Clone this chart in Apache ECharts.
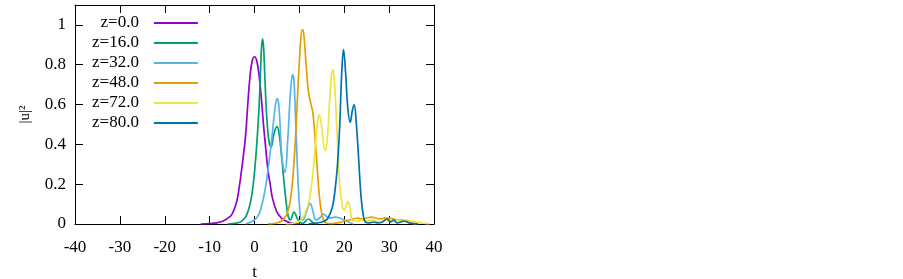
<!DOCTYPE html>
<html>
<head>
<meta charset="utf-8">
<script src="https://cdn.jsdelivr.net/npm/echarts@6/dist/echarts.min.js"></script>
<style>
html,body{margin:0;padding:0;background:#fff;}
#chart{width:903px;height:279px;}
</style>
</head>
<body>
<div id="chart"></div>
<script>
// ---- data ----
const seriesNames = ['z=0.0', 'z=16.0', 'z=32.0', 'z=48.0', 'z=72.0', 'z=80.0'];
const xTicks = [-40, -30, -20, -10, 0, 10, 20, 30, 40];
const yTicks = [0, 0.2, 0.4, 0.6, 0.8, 1];

const tZ0 = [-12,-10,-9,-8,-7,-6,-5,-4,-3.5,-3,-2.5,-2,-1.5,-1,-0.5,0,0.5,1,1.5,2,2.5,3,3.5,4,5,6,7,8,10];
const uZ0 = [0,0.002,0.004,0.008,0.015,0.028,0.05,0.11,0.17,0.25,0.34,0.44,0.6,0.74,0.82,0.84,0.82,0.75,0.64,0.5,0.38,0.27,0.2,0.13,0.06,0.03,0.015,0.006,0];

const tZ16 = [-6,-4,-3,-2,-1.5,-1,-0.5,0,0.5,1,1.3,1.55,1.8,2.05,2.3,2.7,3.2,3.7,4.3,5,5.5,6,6.5,7,7.5,8,8.8,9.7,10.7,12,13,14];
const uZ16 = [0,0.004,0.012,0.035,0.06,0.1,0.16,0.26,0.4,0.58,0.74,0.88,0.93,0.88,0.74,0.55,0.42,0.386,0.45,0.49,0.45,0.35,0.23,0.12,0.04,0.02,0.06,0.02,0.003,0.025,0.008,0];

const tZ32 = [-2,0,1,1.5,2,2.5,3,3.5,4,4.5,4.85,5.1,5.4,5.7,6.1,6.8,7.4,8,8.3,8.55,8.8,9.1,9.5,10,10.5,11,11.7,12.4,13,13.7,14.5,15.4,16.2,17,18,19,20,21,22];
const uZ32 = [0,0.02,0.05,0.085,0.13,0.19,0.27,0.36,0.46,0.57,0.62,0.63,0.6,0.5,0.33,0.26,0.42,0.66,0.73,0.75,0.72,0.56,0.32,0.1,0.02,0.025,0.07,0.104,0.065,0.02,0.03,0.05,0.035,0.03,0.035,0.03,0.02,0.01,0];

const tZ48 = [3,5,6,7,7.5,8,8.5,9,9.5,10,10.4,10.7,11,11.5,12,12.5,13,13.5,14,14.5,15,15.5,16,17,18,19,20,21,22,23,24,25,26,27,28,29,30,31,32,33,34,35,36];
const uZ48 = [0,0.005,0.015,0.04,0.07,0.12,0.22,0.38,0.6,0.82,0.95,0.977,0.95,0.8,0.67,0.61,0.56,0.43,0.27,0.13,0.05,0.015,0.005,0.002,0.004,0.008,0.015,0.02,0.025,0.03,0.025,0.03,0.035,0.03,0.025,0.03,0.03,0.025,0.02,0.02,0.01,0.005,0];

const tZ72 = [7,9,10,11,11.5,12,12.5,13,13.5,14,14.4,14.9,15.4,15.83,16.3,16.7,17.1,17.47,17.85,18.3,18.6,19,19.5,20,20.4,20.8,21.3,21.9,23,24,25,26,27,28,29,30,31,32,33,34,35,36,37,38,39];
const uZ72 = [0,0.005,0.015,0.04,0.07,0.1,0.16,0.25,0.38,0.5,0.55,0.5,0.4,0.37,0.45,0.6,0.74,0.775,0.7,0.5,0.35,0.2,0.1,0.067,0.09,0.114,0.08,0.015,0.015,0.02,0.015,0.02,0.015,0.01,0.015,0.02,0.015,0.02,0.015,0.02,0.015,0.01,0.005,0.003,0];

const tZ80 = [12,14,15,16,16.5,17,17.5,18,18.5,19,19.4,19.84,20.3,20.8,21.33,21.8,22.2,22.7,23.2,23.7,24.2,24.7,25.5,26.5,27.5,28.5,29.5,30.3,31,31.8,32.5,33.5,34.5,35.5,36.5];
const uZ80 = [0,0.005,0.01,0.02,0.035,0.06,0.1,0.18,0.3,0.5,0.74,0.876,0.76,0.58,0.51,0.57,0.6,0.5,0.33,0.15,0.05,0.01,0.005,0.01,0.005,0.01,0.025,0.01,0.02,0.005,0.01,0.015,0.005,0.002,0];

const colors = ['#9400d3', '#009e73', '#56b4e9', '#e69f00', '#f0e442', '#0072b2'];
const tLists = [tZ0, tZ16, tZ32, tZ48, tZ72, tZ80];
const uLists = [uZ0, uZ16, uZ32, uZ48, uZ72, uZ80];

// ---- chart ----
const FONT = '"Liberation Serif", "DejaVu Serif", serif';
const chart = echarts.init(document.getElementById('chart'), null, {renderer: 'canvas'});

const series = seriesNames.map((name, i) => ({
  name: name,
  type: 'line',
  data: tLists[i].map((t, k) => [t, uLists[i][k]]),
  smooth: 0.4,
  showSymbol: false,
  symbol: 'none',
  lineStyle: {color: colors[i], width: 1.7},
  itemStyle: {color: colors[i]},
  xAxisIndex: 0,
  yAxisIndex: 0,
  z: 2 + i
}));

const yFmt = v => (yTicks.some(t => Math.abs(t - v) < 1e-9) ? String(+v.toFixed(1)) : '');
const xFmt = v => (xTicks.indexOf(Math.round(v)) >= 0 ? String(Math.round(v)) : '');

const tickStyle = {show: true, inside: true, length: 8, lineStyle: {color: '#000', width: 1}};
const lineStyle = {show: true, onZero: false, lineStyle: {color: '#000', width: 1}};
const txt = {fontFamily: FONT, fontSize: 17, color: '#000'};

chart.setOption({
  animation: false,
  backgroundColor: '#fff',
  color: colors,
  textStyle: {fontFamily: FONT},
  grid: {left: 75, right: 469, top: 5, bottom: 55, containLabel: false, outerBoundsMode: 'none'},
  legend: {
    data: seriesNames,
    orient: 'vertical',
    left: 92,
    top: 13,
    padding: 0,
    align: 'right',
    itemGap: 0,
    itemWidth: 44,
    itemHeight: 2,
    icon: 'rect',
    textStyle: Object.assign({}, txt, {lineHeight: 20, padding: [0, 10, 0, 0]})
  },
  xAxis: [
    {
      type: 'value', position: 'bottom', min: -40, max: 40, interval: 10,
      axisLine: lineStyle, axisTick: tickStyle, splitLine: {show: false},
      axisLabel: Object.assign({}, txt, {margin: 15, formatter: xFmt}),
      name: 't', nameLocation: 'middle', nameGap: 40,
      nameTextStyle: txt
    },
    {
      type: 'value', position: 'top', min: -40, max: 40, interval: 10,
      axisLine: lineStyle, axisTick: tickStyle, splitLine: {show: false},
      axisLabel: {show: false}
    }
  ],
  yAxis: [
    {
      type: 'value', position: 'left', min: 0, max: 1.1, interval: 0.2,
      axisLine: lineStyle, axisTick: tickStyle, splitLine: {show: false},
      axisLabel: Object.assign({}, txt, {margin: 9, formatter: yFmt}),
      name: '|u|²', nameLocation: 'middle', nameGap: 42,
      nameTextStyle: Object.assign({}, txt, {fontSize: 15})
    },
    {
      type: 'value', position: 'right', min: 0, max: 1.1, interval: 0.2,
      axisLine: lineStyle, axisTick: tickStyle, splitLine: {show: false},
      axisLabel: {show: false}
    }
  ],
  series: series
});
</script>
</body>
</html>
